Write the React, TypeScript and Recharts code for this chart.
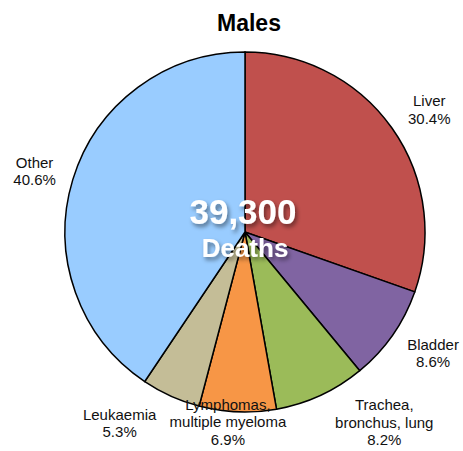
import { PieChart, Pie, Cell } from 'recharts'

const categories = ['Liver', 'Bladder', 'Trachea,\nbronchus, lung', 'Lymphomas,\nmultiple myeloma', 'Leukaemia', 'Other']
const shares = [30.4, 8.6, 8.2, 6.9, 5.3, 40.6]
const colors = ['#c0504d', '#8064a2', '#9bbb59', '#f79646', '#c4bd97', '#99ccff']
const totalLabel = '39,300'
const totalUnit = 'Deaths'
const title = 'Males'

// small nudges so labels sit like the original (label placement only)
const labelNudge: [number, number][] = [
  [3, 6],
  [6, -6],
  [46, -11],
  [-8, -32],
  [-34, -11],
  [2, 4],
]

const data = categories.map((name, i) => ({ name, value: shares[i] }))
const FONT = '"Liberation Sans", Arial, Helvetica, sans-serif'
const RADIAN = Math.PI / 180

function renderLabel(props: any) {
  const { cx, cy, midAngle, outerRadius, index, value, name } = props
  const r = outerRadius + 42
  const [nx, ny] = labelNudge[index] ?? [0, 0]
  const x = cx + r * Math.cos(-midAngle * RADIAN) + nx
  const y = cy + r * Math.sin(-midAngle * RADIAN) + ny
  const lines = [...String(name).split('\n'), `${Number(value).toFixed(1)}%`]
  const lh = 17.5
  const first = y - ((lines.length - 1) * lh) / 2 + 5.3
  return (
    <text key={`l-${index}`} x={x} textAnchor="middle" fontSize={15} fill="#111" fontFamily={FONT}>
      {lines.map((ln, i) => (
        <tspan key={i} x={x} y={first + i * lh}>
          {ln}
        </tspan>
      ))}
    </text>
  )
}

export default function App() {
  return (
    <div style={{ position: 'fixed', left: 0, top: 0, width: 463, height: 451, background: '#fff' }}>
      <PieChart width={463} height={451} margin={{ top: 0, right: 0, bottom: 0, left: 0 }}>
        <Pie
          data={data}
          dataKey="value"
          nameKey="name"
          cx={245}
          cy={232}
          outerRadius={180}
          startAngle={90}
          endAngle={-270}
          stroke="#000"
          strokeWidth={1.5}
          label={renderLabel}
          labelLine={false}
          isAnimationActive={false}
        >
          {data.map((d, i) => (
            <Cell key={d.name} fill={colors[i]} />
          ))}
        </Pie>
      </PieChart>
      <svg width={463} height={451} style={{ position: 'absolute', left: 0, top: 0, pointerEvents: 'none' }}>
        <defs>
          <filter id="shadow" x="-20%" y="-20%" width="140%" height="160%">
            <feDropShadow dx={2} dy={3} stdDeviation={2} floodColor="#000" floodOpacity={0.45} />
          </filter>
        </defs>
        <text x={249} y={31} textAnchor="middle" fontSize={23} fontWeight="bold" fontFamily={FONT} fill="#000">
          {title}
        </text>
        <g filter="url(#shadow)" fontFamily={FONT} fontWeight="bold" fill="#fff" textAnchor="middle">
          <text x={243} y={224} fontSize={35}>
            {totalLabel}
          </text>
          <text x={245} y={257} fontSize={26}>
            {totalUnit}
          </text>
        </g>
      </svg>
    </div>
  )
}
